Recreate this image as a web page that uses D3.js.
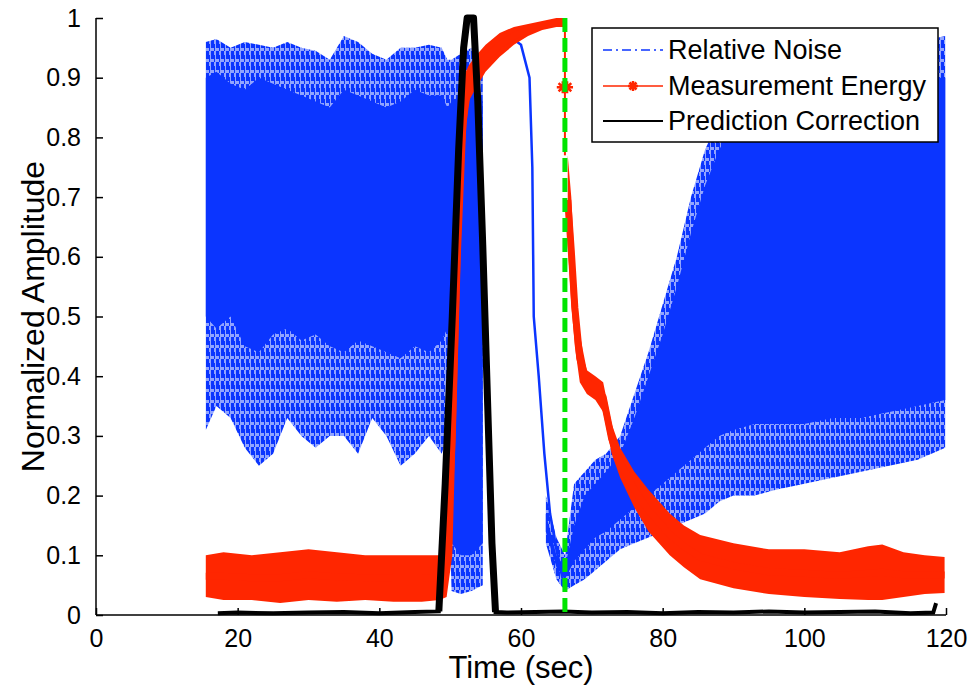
<!DOCTYPE html>
<html>
<head>
<meta charset="utf-8">
<script src="https://cdnjs.cloudflare.com/ajax/libs/d3/7.8.5/d3.min.js"></script>
<style>
  body { margin: 0; background: #fff; }
  text { font-family: "Liberation Sans", Arial, sans-serif; fill: #000; }
</style>
</head>
<body>
<div class="chart"></div>
<script>
// ---- data ----

// Relative Noise: the cloud of traces, kept as envelopes (outer fringe + dense core)
var noiseTimeA   = [15.5, 17, 19, 21, 23, 25, 27, 29, 31, 33, 35, 37, 39, 41, 43, 45, 47, 48.8, 49.6, 50.2, 51.5, 53, 54.6];
var noiseOuterHiA = [0.96, 0.965, 0.95, 0.96, 0.955, 0.95, 0.96, 0.95, 0.945, 0.93, 0.97, 0.96, 0.94, 0.93, 0.95, 0.95, 0.955, 0.95, 0.93, 0.93, 0.94, 0.95, 0.93];
var noiseCoreHiA  = [0.9, 0.91, 0.89, 0.88, 0.9, 0.89, 0.88, 0.87, 0.86, 0.85, 0.88, 0.87, 0.86, 0.85, 0.86, 0.88, 0.87, 0.87, 0.85, 0.86, 0.87, 0.88, 0.86];
var noiseCoreLoA  = [0.5, 0.48, 0.5, 0.45, 0.44, 0.47, 0.48, 0.46, 0.47, 0.45, 0.44, 0.46, 0.45, 0.44, 0.43, 0.45, 0.44, 0.46, 0.48, 0.12, 0.1, 0.1, 0.12];
var noiseOuterLoA = [0.31, 0.35, 0.33, 0.28, 0.25, 0.27, 0.33, 0.3, 0.28, 0.3, 0.3, 0.27, 0.33, 0.3, 0.25, 0.27, 0.3, 0.27, 0.3, 0.04, 0.035, 0.04, 0.05];

var noiseTimeC    = [63.5, 65, 66.2, 67.5, 69, 70.5, 72, 74, 76, 78, 80, 82, 84, 86, 88, 90, 93, 96, 100, 104, 108, 112, 116, 119.9];
var noiseOuterHiC = [0.2, 0.13, 0.1, 0.22, 0.24, 0.26, 0.27, 0.3, 0.37, 0.44, 0.52, 0.6, 0.7, 0.78, 0.83, 0.87, 0.9, 0.92, 0.93, 0.94, 0.95, 0.95, 0.96, 0.97];
var noiseCoreHiC  = [0.17, 0.1, 0.08, 0.15, 0.2, 0.22, 0.24, 0.27, 0.33, 0.4, 0.47, 0.55, 0.64, 0.72, 0.78, 0.82, 0.85, 0.87, 0.88, 0.88, 0.89, 0.89, 0.9, 0.9];
var noiseCoreLoC  = [0.14, 0.08, 0.06, 0.09, 0.11, 0.13, 0.14, 0.16, 0.18, 0.2, 0.22, 0.24, 0.26, 0.28, 0.3, 0.31, 0.32, 0.32, 0.32, 0.33, 0.33, 0.34, 0.35, 0.36];
var noiseOuterLoC = [0.12, 0.06, 0.04, 0.05, 0.06, 0.075, 0.09, 0.11, 0.12, 0.13, 0.14, 0.15, 0.16, 0.17, 0.19, 0.2, 0.2, 0.21, 0.22, 0.23, 0.24, 0.25, 0.26, 0.28];

// the single trace that arches over the gap
var archTime  = [54.6, 55.5, 57, 58.5, 60, 61.2, 61.6, 61.8, 62.5, 63.3, 64.1, 65, 65.8, 66.2];
var archValue = [0.93, 0.955, 0.965, 0.968, 0.955, 0.9, 0.75, 0.5, 0.4, 0.27, 0.17, 0.11, 0.065, 0.045];

// Measurement Energy: thick band (low / high edge)
var energyTime1 = [15.5, 18, 22, 26, 30, 34, 38, 42, 46, 48.5, 49.5, 50.3, 51, 51.8, 52.6, 53.5, 55, 57, 59, 61, 63, 65, 66.2];
var energyLo1   = [0.03, 0.025, 0.025, 0.02, 0.025, 0.022, 0.025, 0.022, 0.022, 0.025, 0.03, 0.1, 0.4, 0.75, 0.86, 0.88, 0.91, 0.935, 0.955, 0.97, 0.98, 0.985, 0.985];
var energyHi1   = [0.1, 0.105, 0.1, 0.105, 0.11, 0.105, 0.1, 0.1, 0.1, 0.1, 0.16, 0.5, 0.8, 0.9, 0.92, 0.935, 0.955, 0.975, 0.985, 0.99, 0.995, 1.0, 1.0];

var energyDropTime  = [66.2, 66.2];
var energyDropValue = [0.995, 0.77];
var energyMarkTime  = [65.9, 66.5];
var energyMarkValue = [0.884, 0.884];

var energyTime2 = [66.6, 67.1, 67.6, 68.3, 69.3, 70.5, 71.6, 72.8, 74, 76, 78, 81, 83, 85.3, 90, 95, 100, 105, 109, 111, 114, 117, 119.8];
var energyLo2   = [0.62, 0.52, 0.45, 0.39, 0.37, 0.36, 0.34, 0.27, 0.23, 0.18, 0.14, 0.1, 0.08, 0.06, 0.045, 0.035, 0.03, 0.027, 0.025, 0.025, 0.03, 0.035, 0.037];
var energyHi2   = [0.77, 0.7, 0.58, 0.47, 0.41, 0.4, 0.39, 0.32, 0.28, 0.24, 0.21, 0.17, 0.15, 0.134, 0.12, 0.11, 0.11, 0.105, 0.115, 0.118, 0.105, 0.1, 0.097];

// Prediction Correction
var predTime  = [17.2, 20, 25, 30, 35, 40, 45, 48.4, 49.3, 50.3, 51.2, 51.9, 52.4, 53.3, 53.9, 54.6, 55.3, 55.9, 56.4, 58, 62, 66, 70, 75, 80, 85, 90, 95, 100, 105, 110, 115, 118.2, 118.6];
var predValue = [0.003, 0.004, 0.003, 0.004, 0.005, 0.003, 0.005, 0.006, 0.22, 0.5, 0.78, 0.95, 1.0, 1.0, 0.86, 0.62, 0.35, 0.12, 0.005, 0.004, 0.005, 0.006, 0.004, 0.005, 0.003, 0.005, 0.004, 0.006, 0.004, 0.005, 0.006, 0.003, 0.004, 0.02];

// green marker line
var switchTime = 66.2;

var xTicks = [0, 20, 40, 60, 80, 100, 120];
var yTicks = [0, 0.1, 0.2, 0.3, 0.4, 0.5, 0.6, 0.7, 0.8, 0.9, 1];
var legendLabels = ["Relative Noise", "Measurement Energy", "Prediction Correction"];

// ---- chart ----
var svgWidth = 974;
var svgHeight = 687;

var margin = { top: 18, right: 28, bottom: 72, left: 96 };
var width = svgWidth - margin.left - margin.right;
var height = svgHeight - margin.top - margin.bottom;

var blue = "#0b35ff";
var red = "#ff2600";
var green = "#00e400";

var svg = d3.select(".chart")
  .append("svg")
  .attr("width", svgWidth)
  .attr("height", svgHeight);

// streaky fill for the sparse edge of the noise cloud
var pattern = svg.append("defs").append("pattern")
  .attr("id", "streaks")
  .attr("patternUnits", "userSpaceOnUse")
  .attr("width", 5)
  .attr("height", 11);
pattern.append("rect").attr("width", 5).attr("height", 11).attr("fill", blue).attr("fill-opacity", 0.45);
pattern.append("rect").attr("x", 0).attr("width", 3).attr("height", 8).attr("fill", blue);
pattern.append("rect").attr("x", 3).attr("y", 4).attr("width", 1).attr("height", 7).attr("fill", blue);

var chartGroup = svg.append("g")
  .attr("transform", `translate(${margin.left}, ${margin.top})`);

var x = d3.scaleLinear().domain([0, 120]).range([0, width]);
var y = d3.scaleLinear().domain([0, 1]).range([height, 0]);

function band(times, lo, hi) {
  return times.map((t, i) => ({ t: t, lo: lo[i], hi: hi[i] }));
}
function pts(times, vals) {
  return times.map((t, i) => ({ t: t, v: vals[i] }));
}

var area = d3.area()
  .x(d => x(d.t))
  .y0(d => y(d.lo))
  .y1(d => y(d.hi));

var line = d3.line()
  .x(d => x(d.t))
  .y(d => y(d.v));

var plot = chartGroup.append("g");

// noise: fringe then dense core
[[noiseTimeA, noiseOuterLoA, noiseOuterHiA, noiseCoreLoA, noiseCoreHiA],
 [noiseTimeC, noiseOuterLoC, noiseOuterHiC, noiseCoreLoC, noiseCoreHiC]].forEach(function(s) {
  plot.append("path")
    .attr("d", area(band(s[0], s[1], s[2])))
    .attr("fill", "url(#streaks)");
  plot.append("path")
    .attr("d", area(band(s[0], s[3], s[4])))
    .attr("fill", blue);
});

plot.append("path")
  .attr("d", line(pts(archTime, archValue)))
  .attr("fill", "none")
  .attr("stroke", blue)
  .attr("stroke-width", 2.5);

// measurement energy
[[energyTime1, energyLo1, energyHi1], [energyTime2, energyLo2, energyHi2]].forEach(function(s) {
  var b = band(s[0], s[1], s[2]);
  plot.append("path")
    .attr("d", area(b))
    .attr("fill", red);
  plot.append("path")
    .attr("d", line(b.map(d => ({ t: d.t, v: (d.lo + d.hi) / 2 }))))
    .attr("fill", "none")
    .attr("stroke", red)
    .attr("stroke-width", 7)
    .attr("stroke-linejoin", "round");
});

plot.append("path")
  .attr("d", line(pts(energyDropTime, energyDropValue)))
  .attr("fill", "none")
  .attr("stroke", red)
  .attr("stroke-width", 2);

function asterisk(g, cx, cy, r, color) {
  var a = r * 0.7;
  g.append("path")
    .attr("d", `M${cx - r},${cy}H${cx + r}M${cx},${cy - r}V${cy + r}` +
      `M${cx - a},${cy - a}L${cx + a},${cy + a}M${cx - a},${cy + a}L${cx + a},${cy - a}`)
    .attr("stroke", color)
    .attr("stroke-width", 2.5)
    .attr("fill", "none");
}
pts(energyMarkTime, energyMarkValue).forEach(d => asterisk(plot, x(d.t), y(d.v), 6, red));

// prediction correction
var pred = pts(predTime, predValue);
plot.append("path")
  .attr("d", line(pred))
  .attr("fill", "none")
  .attr("stroke", "#000")
  .attr("stroke-width", 4);
plot.append("path")
  .attr("d", line(pred.filter(d => d.t > 48 && d.t < 57)))
  .attr("fill", "none")
  .attr("stroke", "#000")
  .attr("stroke-width", 7)
  .attr("stroke-linejoin", "round");

// green dashed line
plot.append("line")
  .attr("x1", x(switchTime)).attr("x2", x(switchTime))
  .attr("y1", y(1)).attr("y2", y(0))
  .attr("stroke", green)
  .attr("stroke-width", 5)
  .attr("stroke-dasharray", "14,6");

// axes (ticks inward, no box)
var bottomAxis = d3.axisBottom(x).tickValues(xTicks).tickSize(-7).tickPadding(14).tickFormat(d3.format("d"));
var leftAxis = d3.axisLeft(y).tickValues(yTicks).tickSize(-7).tickPadding(15).tickFormat(d => d === 0 || d === 1 ? d : d3.format(".1f")(d));

var xAxis = chartGroup.append("g")
  .attr("transform", `translate(0, ${height})`)
  .call(bottomAxis);
var yAxis = chartGroup.append("g").call(leftAxis);

[xAxis, yAxis].forEach(function(a) {
  a.select(".domain").attr("stroke", "#000").attr("stroke-width", 1.5);
  a.selectAll(".tick line").attr("stroke", "#000").attr("stroke-width", 1.5);
  a.selectAll("text")
    .attr("font-size", 25)
    .attr("font-family", "Liberation Sans, Arial, sans-serif")
    .attr("fill", "#000");
});
xAxis.select(".domain").attr("d", `M0,0H${width}`);
yAxis.select(".domain").attr("d", `M0,${height}V0`);

svg.append("text")
  .attr("x", margin.left + width / 2)
  .attr("y", 678)
  .attr("text-anchor", "middle")
  .attr("font-size", 31)
  .text("Time (sec)");

svg.append("text")
  .attr("transform", `translate(44, ${margin.top + height / 2}) rotate(-90)`)
  .attr("text-anchor", "middle")
  .attr("font-size", 32)
  .text("Normalized Amplitude");

// legend
var legend = svg.append("g").attr("transform", "translate(592, 28)");
legend.append("rect")
  .attr("width", 346)
  .attr("height", 114)
  .attr("fill", "#fff")
  .attr("stroke", "#000")
  .attr("stroke-width", 1.5);

var rowY = [22, 58, 93];
legendLabels.forEach(function(label, i) {
  legend.append("text")
    .attr("x", 76)
    .attr("y", rowY[i] + 9)
    .attr("font-size", 27)
    .text(label);
});
legend.append("line")
  .attr("x1", 11).attr("x2", 71).attr("y1", rowY[0]).attr("y2", rowY[0])
  .attr("stroke", blue).attr("stroke-width", 1.5)
  .attr("stroke-dasharray", "9,4,2,4");
legend.append("line")
  .attr("x1", 11).attr("x2", 71).attr("y1", rowY[1]).attr("y2", rowY[1])
  .attr("stroke", red).attr("stroke-width", 1.5);
asterisk(legend, 41, rowY[1], 5, red);
legend.append("line")
  .attr("x1", 11).attr("x2", 71).attr("y1", rowY[2]).attr("y2", rowY[2])
  .attr("stroke", "#000").attr("stroke-width", 2);
</script>
</body>
</html>
